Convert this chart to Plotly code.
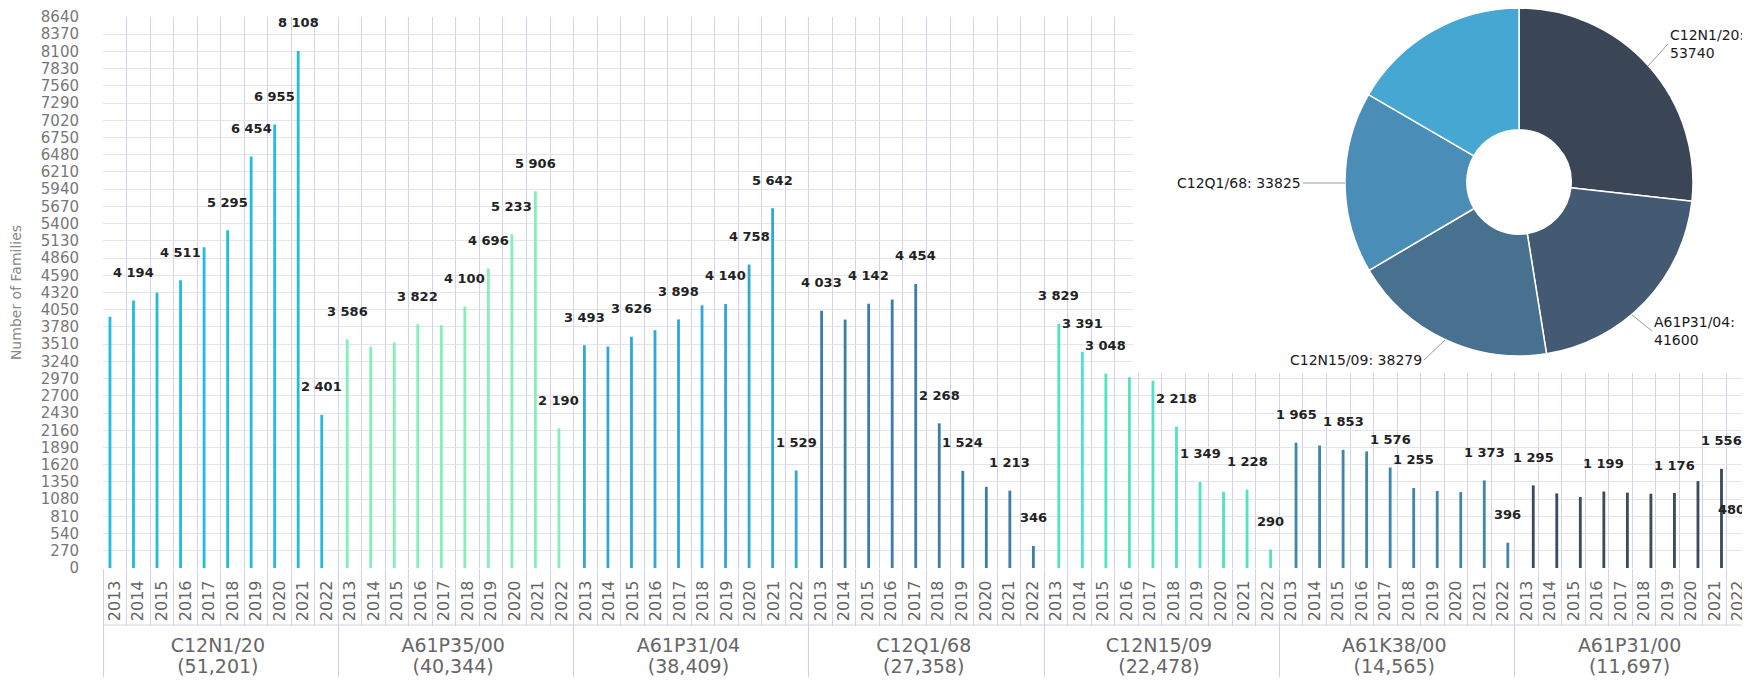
import plotly.graph_objects as go

# ---- data -------------------------------------------------------------
years = ["2013", "2014", "2015", "2016", "2017", "2018", "2019", "2020", "2021", "2022"]

groups = ["C12N1/20", "A61P35/00", "A61P31/04", "C12Q1/68",
          "C12N15/09", "A61K38/00", "A61P31/00"]
group_totals = [51201, 40344, 38409, 27358, 22478, 14565, 11697]

c12n1_20 = [3940, 4194, 4315, 4511, 5028, 5295, 6454, 6955, 8108, 2401]
a61p35_00 = [3586, 3470, 3533, 3822, 3808, 4100, 4696, 5233, 5906, 2190]
a61p31_04 = [3493, 3473, 3626, 3730, 3898, 4120, 4140, 4758, 5642, 1529]
c12q1_68 = [4033, 3895, 4142, 4210, 4454, 2268, 1524, 1273, 1213, 346]
c12n15_09 = [3829, 3391, 3048, 2992, 2937, 2218, 1349, 1196, 1228, 290]
a61k38_00 = [1965, 1921, 1853, 1828, 1576, 1255, 1208, 1190, 1373, 396]
a61p31_00 = [1295, 1170, 1112, 1199, 1182, 1165, 1176, 1362, 1556, 480]

series = [c12n1_20, a61p35_00, a61p31_04, c12q1_68, c12n15_09, a61k38_00, a61p31_00]

# years whose value label is shown (the rest were hidden by overlap)
labelled_years = [
    ["2014", "2016", "2018", "2019", "2020", "2021", "2022"],
    ["2013", "2016", "2018", "2019", "2020", "2021", "2022"],
    ["2013", "2015", "2017", "2019", "2020", "2021", "2022"],
    ["2013", "2015", "2017", "2018", "2019", "2021", "2022"],
    ["2013", "2014", "2015", "2018", "2019", "2021", "2022"],
    ["2013", "2015", "2017", "2018", "2021", "2022"],
    ["2013", "2016", "2019", "2021", "2022"],
]

pie_labels = ["C12N1/20", "A61P31/04", "C12N15/09", "C12Q1/68", "A61P35/00"]
pie_values = [53740, 41600, 38279, 33825, 33400]

# ---- styles -----------------------------------------------------------
bar_colors = ["#22bddd", "#86eeb8", "#31a8d6", "#3c7ea6",
              "#4fe4c2", "#3f86a9", "#3b4a5e"]
pie_colors = ["#3a4556", "#445a73", "#47718f", "#4a8db7", "#46a7d3"]

FONT = "DejaVu Sans"
bar_width = 0.12
slot0, slot_step = 0.042, 0.082
YEAR_PAD = "\u00a0\u2009"   # keeps the year labels a little off the axis line

# the page body adds an 8px margin, so the figure is shrunk by that much
OFF = 8
W, H = 1750 - OFF, 682 - OFF
PLOT_L, PLOT_T, PLOT_B = 103 - OFF, 17 - OFF, 568 - OFF
paper_w, paper_h = W - PLOT_L, PLOT_B
n_cat = len(groups) * len(years)


def px_x(px):
    # screen x -> paper fraction
    return (px - OFF - PLOT_L) / paper_w


def px_y(py):
    # screen y -> paper fraction
    return (paper_h - (py - OFF)) / paper_h


def fmt(v):
    return f"{v:,}".replace(",", " ")


fig = go.Figure()

big = "<span style='font-size:19px'>{}</span>"
group_axis = [big.format(g) + "<br>" + big.format(f"({t:,})")
              for g, t in zip(groups, group_totals)]
year_axis = [y + YEAR_PAD for y in years]

for gi, (gname, vals, color) in enumerate(zip(group_axis, series, bar_colors)):
    center = slot0 + (gi - 3) * slot_step
    fig.add_trace(go.Bar(
        x=[[gname] * len(years), year_axis],
        y=vals,
        marker=dict(color=color, line=dict(width=0)),
        width=bar_width,
        offset=center - bar_width / 2,
        name=groups[gi],
        showlegend=False,
    ))
    for yi, yr in enumerate(years):
        if yr in labelled_years[gi]:
            k = gi * len(years) + yi
            last = k == n_cat - 1
            fig.add_annotation(
                x=k + center, y=vals[yi],
                text=fmt(vals[yi]), showarrow=False, yshift=28,
                xanchor="right" if last else "center", xshift=2 if last else 0,
                font=dict(family=FONT, size=13, color="#222", weight="bold"),
            )

# white panel behind the donut: drawn on an overlay axis so it hides the grid
mask_x0 = px_x(1133)
mask_y0 = (PLOT_B - (373 - OFF)) / (PLOT_B - PLOT_T)
fig.add_trace(go.Scatter(
    x=[mask_x0, 1, 1, mask_x0, mask_x0], y=[mask_y0, mask_y0, 1, 1, mask_y0],
    mode="lines", fill="toself", fillcolor="white", line=dict(width=0),
    xaxis="x2", yaxis="y2", hoverinfo="skip", showlegend=False,
))

# donut
cx, cy, r = 1519, 182, 174
fig.add_trace(go.Pie(
    labels=pie_labels, values=pie_values, hole=0.3,
    sort=False, direction="clockwise", rotation=0,
    textinfo="none", showlegend=False,
    marker=dict(colors=pie_colors, line=dict(color="white", width=1.5)),
    domain=dict(x=[px_x(cx - r), px_x(cx + r)],
                y=[max(px_y(cy + r), 0), min(px_y(cy - r), 1)]),
))

# donut labels with leader lines (screen pixels: head x, y -> text x, y)
pie_notes = [
    ("C12N1/20:<br>53740", 1648, 66, 1668, 44, "left"),
    ("A61P31/04:<br>41600", 1632, 315, 1652, 331, "left"),
    ("C12N15/09: 38279", 1445, 340, 1424, 360, "right"),
    ("C12Q1/68: 33825", 1345, 183, 1303, 183, "right"),
]
for text, hx, hy, tx, ty, anchor in pie_notes:
    fig.add_annotation(
        xref="paper", yref="paper", x=px_x(hx), y=px_y(hy),
        axref="pixel", ayref="pixel", ax=tx - hx, ay=ty - hy,
        text=text, showarrow=True, arrowhead=0, arrowwidth=1, arrowcolor="#9a9a9a",
        xanchor=anchor, align="left",
        font=dict(family=FONT, size=14, color="#1a1a1a"),
    )

# line between the year row and the group row
fig.add_shape(type="line", xref="paper", yref="paper", x0=0, x1=1,
              y0=px_y(625), y1=px_y(625), line=dict(color="#d2d2e4", width=1))

fig.update_layout(
    width=W, height=H,
    margin=dict(l=PLOT_L, r=0, t=0, b=H - PLOT_B),
    plot_bgcolor="white", paper_bgcolor="white",
    barmode="overlay",
    font=dict(family=FONT, color="#666"),
    xaxis=dict(
        type="multicategory", tickson="boundaries",
        showgrid=True, gridcolor="#d2d2ea", gridwidth=1,
        ticks="outside", ticklen=57, tickcolor="#d2d2ea", tickwidth=1,
        tickangle=-90, tickfont=dict(family=FONT, size=16, color="#666"),
        ticklabeloverflow="allow",
        showdividers=True, dividercolor="#cfcfe2", dividerwidth=1,
        showline=False, zeroline=False, automargin=False,
        range=[-0.5, n_cat - 0.5],
    ),
    yaxis=dict(
        range=[0, 8640], tick0=0, dtick=270,
        domain=[0, (PLOT_B - PLOT_T) / PLOT_B],
        showgrid=True, gridcolor="#e4e4ec", gridwidth=1,
        showline=False, zeroline=False, automargin=False,
        tickfont=dict(family=FONT, size=15, color="#777"),
        ticklabelstandoff=23, ticklabeloverflow="allow",
        title=dict(text="Number of Families", standoff=28,
                   font=dict(family=FONT, size=14, color="#888")),
    ),
    xaxis2=dict(overlaying="x", range=[0, 1], visible=False),
    yaxis2=dict(overlaying="y", range=[0, 1], visible=False),
)

fig.write_html("out.html")
